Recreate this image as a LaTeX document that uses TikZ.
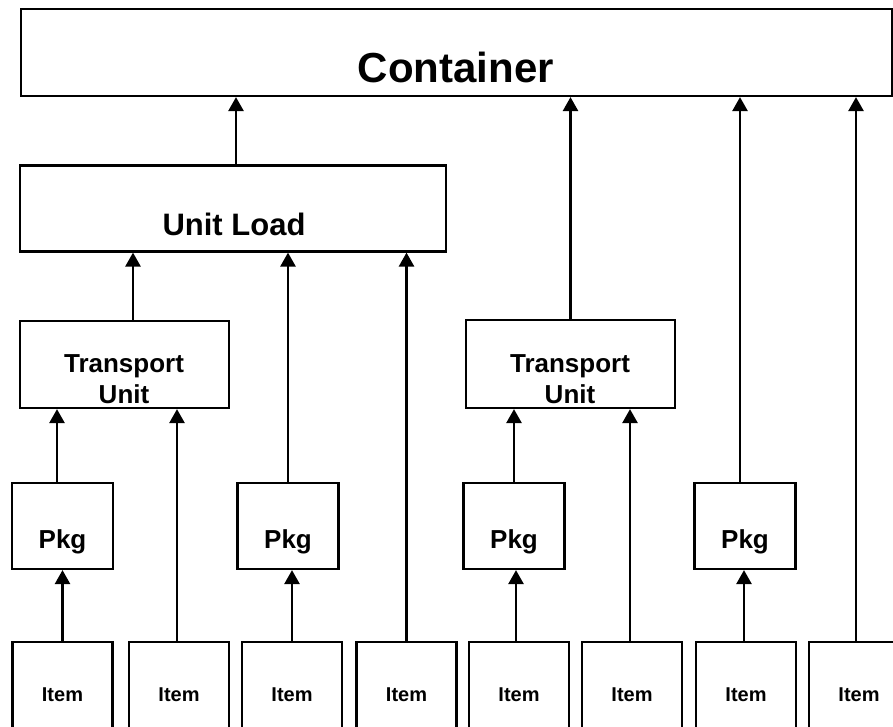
\documentclass[tikz,border=0pt]{standalone}
\usepackage{fontspec}
\setmainfont{Liberation Sans}
\usetikzlibrary{arrows.meta}
\tikzset{%
	up/.style={-{Triangle[length=14pt,width=15pt]}, line width=2.6pt},
	txt/.style={anchor=base, align=center, font=\bfseries\fontsize{#1}{31}\selectfont}
}

\begin{document}
\begin{tikzpicture}[x=1pt, y=-1pt,
	box/.style={draw, line width=2.2pt, rectangle, inner sep=0pt, name=#1},
	pkg/.style={box=#1, minimum width=101pt, minimum height=86pt},
	item/.style={box=#1, minimum width=100pt, minimum height=120pt}]
	\useasboundingbox (0,0) rectangle (893,727);
	\clip (0,0) rectangle (893,727);
	% boxes
	\node [box=cont, minimum width=871pt, minimum height=87pt] at (456.5, 52.5) {};
	\node [box=ul, minimum width=426pt, minimum height=86pt] at (233, 208.5) {};
	\node [box=tuA, minimum width=209pt, minimum height=87pt] at (124.5, 364.5) {};
	\node [box=tuB, minimum width=209pt, minimum height=88pt] at (570.5, 364) {};
	\node [pkg=pA] at (62.5, 526) {};
	\node [pkg=pB] at (288, 526) {};
	\node [pkg=pC] at (514, 526) {};
	\node [pkg=pD] at (745, 526) {};
	\node [item=iA] at (62.5, 702) {};
	\node [item=iB] at (179, 702) {};
	\node [item=iC] at (292, 702) {};
	\node [item=iD] at (406.5, 702) {};
	\node [item=iE] at (519, 702) {};
	\node [item=iF] at (632, 702) {};
	\node [item=iG] at (746, 702) {};
	\node [item=iH] at (859, 702) {};
	% labels (base of the last line)
	\node [txt=42] (contT) at (456, 83) {Container};
	\node [txt=31] (ulT) at (234, 236) {Unit Load};
	\node [txt=26] (tuAT) at (124, 403) {Transport\\Unit};
	\node [txt=26] (tuBT) at (570, 403) {Transport\\Unit};
	\node [txt=26] (pAT) at (62.5, 548) {Pkg};
	\node [txt=26] (pBT) at (288, 548) {Pkg};
	\node [txt=26] (pCT) at (514, 548) {Pkg};
	\node [txt=26] (pDT) at (745, 548) {Pkg};
	\node [txt=20] (iAT) at (62.5, 701) {Item};
	\node [txt=20] (iBT) at (179, 701) {Item};
	\node [txt=20] (iCT) at (292, 701) {Item};
	\node [txt=20] (iDT) at (406.5, 701) {Item};
	\node [txt=20] (iET) at (519, 701) {Item};
	\node [txt=20] (iFT) at (632, 701) {Item};
	\node [txt=20] (iGT) at (746, 701) {Item};
	\node [txt=20] (iHT) at (859, 701) {Item};
	% items up to packages
	\draw [up] (iA) -- (pA);
	\draw [up] (iC) -- (pC.south -| iC.north);
	\draw [up] ([xshift=-3pt]iE.north) -- ([xshift=-3pt]iE.north |- pC.south);
	\draw [up] ([xshift=-2pt]iG.north) -- ([xshift=-2pt]iG.north |- pD.south);
	% into the transport units
	\draw [up] ([xshift=-5.5pt]pA.north) -- ([xshift=-5.5pt]pA.north |- tuA.south);
	\draw [up] ([xshift=-2pt]iB.north) -- ([xshift=-2pt]iB.north |- tuA.south);
	\draw [up] (pC.north) -- (pC.north |- tuB.south);
	\draw [up] ([xshift=-2pt]iF.north) -- ([xshift=-2pt]iF.north |- tuB.south);
	% into the unit load
	\draw [up] ([xshift=8.5pt]tuA.north) -- ([xshift=8.5pt]tuA.north |- ul.south);
	\draw [up] (pB.north) -- (pB.north |- ul.south);
	\draw [up] (iD.north) -- (iD.north |- ul.south);
	% into the container
	\draw [up] ([xshift=3pt]ul.north) -- ([xshift=3pt]ul.north |- cont.south);
	\draw [up] (tuB.north) -- (tuB.north |- cont.south);
	\draw [up] ([xshift=-5pt]pD.north) -- ([xshift=-5pt]pD.north |- cont.south);
	\draw [up] ([xshift=-3pt]iH.north) -- ([xshift=-3pt]iH.north |- cont.south);
\end{tikzpicture}
\end{document}
